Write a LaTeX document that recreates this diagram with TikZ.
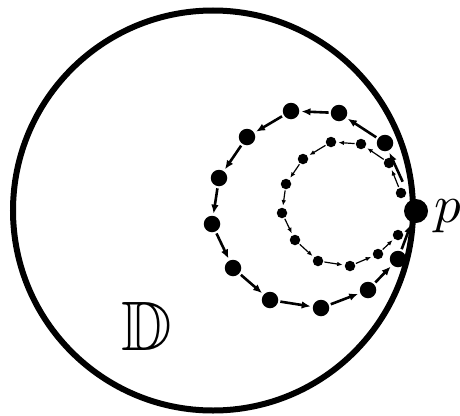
\documentclass[tikz,border=0pt]{standalone}
\usepackage{amssymb}
\usepackage{graphicx}
\usetikzlibrary{arrows.meta}
\begin{document}
\begin{tikzpicture}[x=1pt,y=-1pt,
  bigdot/.style={circle,fill,inner sep=0pt,minimum size=16.5pt},
  smalldot/.style={circle,fill,inner sep=0pt,minimum size=10.5pt},
  pdot/.style={circle,fill,inner sep=0pt,minimum size=24pt},
  outarrow/.style={line width=2.6pt,-{Latex[length=9pt,width=7.5pt]},shorten <=2pt,shorten >=2pt},
  inarrow/.style={line width=1.2pt,-{Latex[length=5.5pt,width=4.5pt]},shorten <=1pt,shorten >=2pt}]
\useasboundingbox (0,0) rectangle (460,415);
\node[draw,circle,line width=6pt,minimum size=400pt,inner sep=0pt] (disk) at (213,210.5) {};
% outer orbit
\node[pdot] (p) at (416,211) {};
\node[bigdot] (o1) at (385,143) {};
\node[bigdot] (o2) at (339,113) {};
\node[bigdot] (o3) at (291,111) {};
\node[bigdot] (o4) at (247,137) {};
\node[bigdot] (o5) at (219,178) {};
\node[bigdot] (o6) at (212,224) {};
\node[bigdot] (o7) at (233,268) {};
\node[bigdot] (o8) at (270,300) {};
\node[bigdot] (o9) at (321,308) {};
\node[bigdot] (o10) at (368,290) {};
\node[bigdot] (o11) at (398,259) {};
% inner orbit
\node[smalldot] (i1) at (401,193) {};
\node[smalldot] (i2) at (389,163) {};
\node[smalldot] (i3) at (361,144) {};
\node[smalldot] (i4) at (331,142) {};
\node[smalldot] (i5) at (303,159) {};
\node[smalldot] (i6) at (286,184) {};
\node[smalldot] (i7) at (282,213) {};
\node[smalldot] (i8) at (295,240) {};
\node[smalldot] (i9) at (318,261) {};
\node[smalldot] (i10) at (350,266) {};
\node[smalldot] (i11) at (378,254) {};
\node[smalldot] (i12) at (398,235) {};
% outer arrows
\draw[outarrow,shorten <=20pt] (p) -- (o1);
\draw[outarrow] (o1) -- (o2);
\draw[outarrow] (o2) -- (o3);
\draw[outarrow] (o3) -- (o4);
\draw[outarrow] (o4) -- (o5);
\draw[outarrow] (o5) -- (o6);
\draw[outarrow] (o6) -- (o7);
\draw[outarrow] (o7) -- (o8);
\draw[outarrow] (o8) -- (o9);
\draw[outarrow] (o9) -- (o10);
\draw[outarrow] (o10) -- (o11);
\draw[outarrow] (o11) -- (p);
% inner arrows
\draw[inarrow] (i1) -- (i2);
\draw[inarrow] (i2) -- (i3);
\draw[inarrow] (i3) -- (i4);
\draw[inarrow] (i4) -- (i5);
\draw[inarrow] (i5) -- (i6);
\draw[inarrow] (i6) -- (i7);
\draw[inarrow] (i7) -- (i8);
\draw[inarrow] (i8) -- (i9);
\draw[inarrow] (i9) -- (i10);
\draw[inarrow] (i10) -- (i11);
\draw[inarrow] (i11) -- (i12);
% labels
\node[anchor=base west,inner sep=0pt] (plabel) at (434,222) {\scalebox{5.3}{$p$}};
\node[anchor=base west,inner sep=0pt,font=\fontsize{70}{70}\selectfont] (dlabel) at (121,350) {$\mathbb{D}$};
\end{tikzpicture}
\end{document}
